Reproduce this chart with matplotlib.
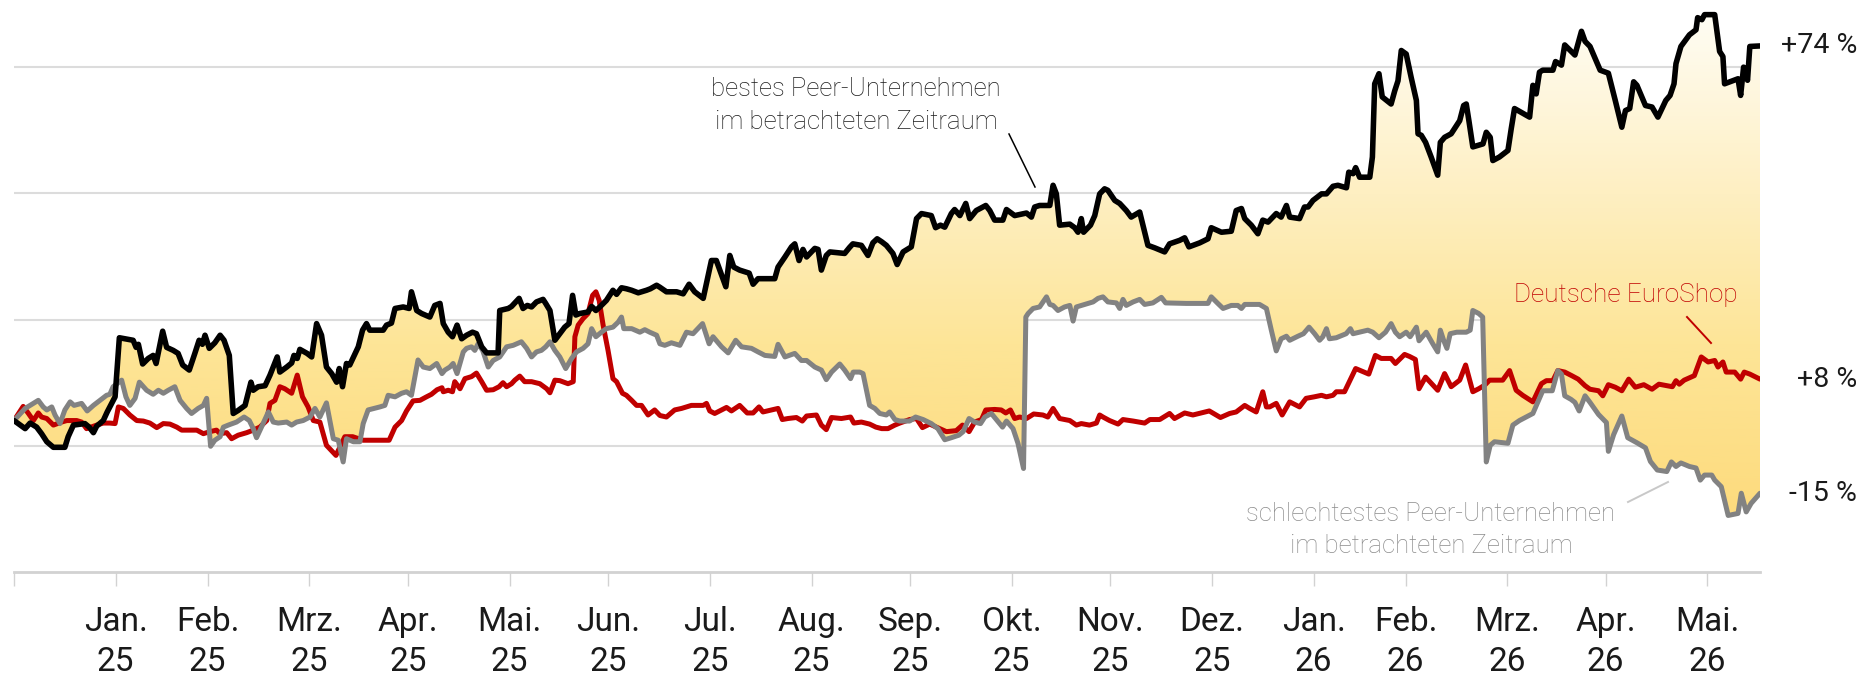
import numpy as np
import pandas as pd
import matplotlib
matplotlib.use("Agg")
import matplotlib.pyplot as plt
import matplotlib.dates as mdates
from matplotlib.colors import LinearSegmentedColormap
from matplotlib.patches import Polygon
from matplotlib.lines import Line2D
from matplotlib.transforms import blended_transform_factory

plt.rcParams['font.family'] = ['Roboto', 'DejaVu Sans']

# ---------------- data (days since start, % change) ----------------
START = '2024-12-31'

best_peer = [(0.0,0),(3.4,-1.6),(4.9,-0.5),(6.9,-1.3),(8.4,-2.6),(10.0,-4.2),(12.0,-5.3),(15.5,-5.3),(16.5,-3.2),(18.1,-0.9),
(21.6,-0.6),(22.9,-1.3),(24.2,-2.4),(25.2,-1.1),(27.2,0),(28.4,1.7),(30.8,4.7),(32.1,16.4),(33.8,16.2),(36.3,15.9),
(37.2,14.5),(37.9,15.1),(39.2,11.2),(40.9,12.3),(42.4,12.9),(43.3,11.3),(45.3,17.7),(46.5,14.5),(48.5,13.9),(50.0,13.3),
(51.4,11.0),(53.4,10.0),(55.1,13.3),(56.4,15.9),(57.4,15.1),(58.2,16.9),(59.5,14.3),(61.2,15.4),(62.8,16.9),(64.0,15.9),
(65.6,12.9),(66.8,1.4),(68.3,2.0),(70.4,3.0),(72.2,7.6),(72.9,6.0),(74.4,6.7),(76.5,6.9),(78.0,9.0),(80.2,12.6),
(81.0,9.6),(83.1,10.6),(84.6,11.4),(85.3,12.9),(86.3,12.3),(87.1,14.1),(89.3,13.3),(90.7,12.6),(92.2,19.2),(93.7,16.9),
(95.2,10.6),(96.8,9.3),(98.3,7.6),(99.1,10.3),(100.1,6.7),(101.3,11.3),(102.3,11.0),(104.9,14.6),(106.2,17.9),(107.4,19.2),
(108.4,17.9),(112.5,17.9),(113.5,18.9),(115.0,19.3),(116.1,22.2),(118.6,22.5),(120.4,22.2),(121.1,25.5),(122.7,21.8),(124.2,21.2),
(126.7,20.5),(128.2,22.8),(129.8,23.2),(130.8,19.2),(132.3,17.5),(133.6,16.6),(135.0,18.9),(136.4,16.2),(137.9,16.9),(139.7,17.5),
(140.9,17.2),(142.5,14.6),(144.0,13.4),(147.5,13.4),(148.0,21.8),(150.6,22.2),(151.6,22.6),(153.9,24.2),(155.1,22.2),(156.4,22.8),
(157.7,22.5),(159.2,23.5),(161.2,24.0),(162.0,23.2),(163.3,21.8),(164.8,15.9),(166.3,17.2),(167.8,18.5),(169.1,19.2),(170.2,24.8),
(171.2,20.9),(172.4,21.2),(174.9,21.5),(176.0,22.6),(177.3,21.8),(178.5,22.5),(180.5,23.8),(182.5,25.8),(183.6,25.0),(185.1,26.3),
(186.6,26.1),(188.2,25.8),(190.2,25.3),(192.7,25.8),(193.9,26.1),(195.8,26.8),(196.8,26.4),(198.8,25.5),(201.9,25.5),(203.9,25.1),
(205.7,27.0),(207.4,25.5),(210.0,24.2),(212.5,31.7),(214.0,31.7),(216.9,26.5),(218.1,32.7),(219.3,30.4),(221.1,29.8),(224.0,29.2),
(225.2,27.0),(226.7,28.1),(231.8,28.1),(232.8,30.4),(234.9,32.4),(236.9,34.4),(237.9,35.0),(239.2,31.7),(240.4,33.9),(241.5,32.4),
(244.0,34.1),(245.0,33.9),(246.0,29.8),(247.5,32.7),(248.6,33.4),(253.1,33.1),(254.6,34.3),(255.6,35.0),(258.2,34.7),(260.2,32.7),
(261.7,35.2),(263.0,36.0),(264.4,35.4),(265.8,34.7),(267.8,33.1),(269.1,30.9),(270.9,33.4),(273.4,34.4),(275.0,40.0),(276.5,41.0),
(279.5,40.6),(280.8,38.2),(282.3,38.7),(283.6,38.3),(285.6,41.0),(286.6,41.8),(288.2,40.6),(290.0,43.0),(291.2,40.0),(293.2,41.6),
(296.1,42.6),(297.3,41.6),(298.8,39.7),(301.3,39.7),(302.4,41.8),(304.9,40.6),(308.5,41.1),(310.0,40.3),(311.0,42.3),(312.5,42.6),
(315.6,42.6),(316.6,46.6),(317.6,44.9),(318.6,38.7),(321.7,38.9),(323.2,38.2),(324.2,37.3),(325.2,40.0),(325.9,37.3),(328.0,38.7),
(329.3,40.6),(330.8,44.9),(332.3,45.9),(333.3,45.6),(335.4,43.6),(336.9,43.0),(338.9,41.6),(340.4,40.3),(343.0,41.3),(345.5,34.7),
(347.6,34.2),(350.6,33.4),(352.1,35.0),(355.2,35.7),(356.7,36.2),(358.0,34.4),(361.3,35.2),(363.8,36.0),(364.8,38.2),(367.9,37.3),
(370.9,37.5),(372.4,41.6),(374.0,42.0),(375.0,40.0),(377.0,38.7),(379.0,37.0),(380.5,39.7),(382.1,39.3),(384.6,41.0),(386.1,40.3),
(387.7,42.6),(388.7,40.3),(391.7,40.0),(393.2,42.3),(394.3,42.3),(395.8,43.6),(398.4,44.9),(399.9,44.9),(401.9,46.4),(403.4,46.6),
(406.0,46.1),(406.7,49.2),(408.0,48.9),(408.8,50.1),(410.0,48.2),(413.1,48.2),(413.9,52.2),(414.6,66.7),(415.9,68.7),(416.9,64.1),
(419.6,62.7),(420.7,65.3),(421.7,67.3),(422.7,73.3),(424.2,72.6),(425.7,68.0),(427.3,63.4),(427.8,56.8),(428.8,56.5),(430.1,55.1),
(431.8,52.2),(433.8,48.6),(434.6,55.1),(435.9,56.1),(437.9,56.8),(440.5,59.4),(441.7,62.4),(442.5,62.7),(443.3,59.4),(444.5,54.2),
(447.6,54.8),(448.6,57.1),(449.8,56.1),(450.6,51.5),(452.6,52.2),(455.2,53.5),(456.2,57.8),(457.2,61.8),(461.8,60.1),(462.8,66.4),
(463.8,64.7),(464.8,69.0),(465.8,69.4),(468.9,69.4),(469.7,71.1),(471.5,70.4),(472.5,74.4),(475.6,72.4),(477.6,77.1),(478.7,75.1),
(480.2,74.1),(483.3,69.4),(485.8,68.8),(487.9,63.4),(489.9,58.1),(491.0,61.4),(492.3,61.8),(493.5,67.1),(494.5,66.4),(497.1,62.4),
(499.1,62.1),(500.9,60.1),(503.3,63.4),(504.6,64.4),(505.8,66.7),(506.4,70.7),(507.9,74.1),(510.5,76.4),(512.5,77.4),(513.0,79.8),
(514.3,79.4),(515.1,80.4),(518.2,80.4),(519.7,73.1),(520.7,72.1),(521.2,66.7),(525.3,67.7),(526.1,64.4),(527.0,70.0),(528.2,67.4),
(528.9,74.1),(532.0,74.2)]

worst_peer = [(0.0,0),(3.4,2.4),(5.4,3.2),(7.4,4.0),(8.9,2.7),(10.0,2.1),(11.5,2.7),(12.5,1.1),(14.0,-0.6),(15.5,2.1),
(17.1,3.7),(18.3,3.0),(20.6,3.4),(22.3,1.9),(24.2,3.0),(26.2,4.0),(28.2,5.0),(29.2,5.2),(30.2,6.7),(32.8,8.0),
(34.1,4.7),(35.3,3.0),(36.9,4.4),(38.2,7.6),(40.4,6.0),(42.4,5.2),(44.0,6.0),(45.5,5.4),(47.0,6.0),(49.0,6.7),
(50.6,4.0),(52.6,2.4),(54.1,1.4),(56.1,2.4),(57.7,3.0),(58.7,4.4),(59.9,-5.1),(61.2,-3.9),(62.8,-3.2),(63.8,-1.3),
(65.3,-0.9),(67.8,-0.3),(70.1,0.7),(71.7,0),(72.9,-1.6),(73.9,-3.4),(75.4,-1.3),(77.5,1.7),(79.0,-0.3),(80.5,-0.5),
(83.1,-0.3),(84.6,-0.9),(86.1,-0.3),(88.1,0),(90.2,0.7),(91.7,2.4),(93.2,0.7),(95.2,3.5),(97.3,-3.6),(98.8,-3.9),
(100.3,-8.2),(101.3,-3.6),(103.4,-4.2),(105.4,-4.2),(106.4,-0.6),(107.9,2.1),(111.5,2.7),(113.0,3.0),(114.0,5.0),(116.1,4.7),
(118.1,5.4),(119.6,5.7),(121.1,5.0),(123.1,12.0),(124.7,10.6),(126.7,10.3),(128.8,11.3),(130.4,9.3),(131.3,10.0),(132.8,10.6),
(133.8,11.3),(135.0,9.3),(136.9,13.6),(137.9,14.3),(139.4,14.6),(140.4,13.9),(141.4,15.2),(142.8,13.9),(144.5,10.6),(146.0,11.9),
(148.0,12.6),(150.1,14.6),(152.1,14.9),(154.6,15.6),(156.2,14.3),(157.7,12.6),(159.2,13.6),(160.7,13.9),(162.0,14.6),(163.3,15.6),
(164.8,13.9),(166.3,12.6),(168.1,10.3),(169.9,12.3),(171.4,13.6),(173.4,14.3),(174.9,15.2),(176.0,18.2),(177.3,16.6),(179.0,17.5),
(180.5,18.2),(182.5,18.5),(184.1,19.5),(185.1,20.5),(185.8,18.2),(188.2,18.2),(190.7,17.5),(192.2,18.0),(193.7,17.5),(195.8,16.9),
(196.8,15.2),(198.3,14.9),(200.3,15.4),(202.9,14.9),(204.9,17.5),(206.9,17.2),(209.8,19.2),(211.8,15.2),(213.0,16.6),(215.6,14.6),
(217.6,13.4),(219.9,15.9),(221.7,14.6),(224.7,14.3),(226.7,13.6),(228.8,12.9),(231.8,12.7),(232.8,15.1),(234.9,12.6),(237.9,13.3),
(239.9,11.9),(241.5,11.9),(244.0,10.6),(246.0,10.0),(247.5,8.1),(249.1,9.6),(251.6,11.2),(253.1,10.0),(254.9,8.3),(255.7,9.6),
(257.7,9.6),(258.7,9.3),(260.7,3.0),(262.3,2.4),(263.8,1.4),(265.8,1.1),(266.8,1.7),(268.4,0.2),(269.9,-0.1),(272.9,-0.1),
(274.7,0.7),(277.0,0.2),(279.5,-0.6),(281.5,-1.6),(283.6,-3.8),(285.6,-3.4),(287.9,-2.9),(289.2,-2.2),(291.0,0.4),(292.7,-0.3),
(294.5,-0.6),(295.8,0.7),(297.8,1.4),(299.3,0.2),(301.2,-1.3),(302.4,-0.1),(304.4,-1.6),(305.9,-4.5),(307.6,-9.5),(308.3,20.5),
(309.0,21.2),(310.5,22.2),(312.5,22.5),(314.6,24.5),(315.6,23.0),(316.6,22.8),(318.1,21.8),(320.1,22.5),(321.7,22.8),(322.7,19.7),
(323.7,22.5),(325.2,22.8),(327.2,23.2),(328.8,23.5),(330.3,24.2),(331.8,24.5),(333.3,23.5),(335.9,23.3),(336.9,22.2),(337.9,24.0),
(338.9,22.8),(341.0,23.5),(343.0,24.0),(344.5,23.0),(347.0,23.3),(349.6,24.4),(350.9,23.3),(357.2,23.2),(363.8,23.2),(364.8,24.5),
(366.8,23.2),(368.4,22.2),(370.9,22.8),(372.9,22.8),(374.0,22.2),(375.0,23.0),(379.5,23.0),(381.6,22.2),(383.1,17.9),(384.6,13.8),
(386.1,16.2),(387.7,16.7),(388.7,15.9),(391.2,16.7),(392.9,17.2),(394.6,18.5),(396.3,17.2),(397.8,15.9),(398.8,16.6),(399.9,18.2),
(400.8,16.2),(402.9,16.4),(405.9,17.2),(407.2,18.2),(408.0,17.2),(412.5,17.9),(414.0,17.5),(415.9,16.4),(417.9,17.5),(419.6,19.2),
(420.9,17.5),(422.2,16.6),(424.2,17.5),(425.4,16.6),(427.3,18.5),(428.1,15.8),(430.3,17.5),(432.3,15.2),(433.8,13.6),(434.6,17.9),
(435.6,15.9),(436.6,14.3),(437.6,17.2),(439.6,17.5),(442.5,17.5),(443.7,17.9),(444.5,21.8),(446.3,21.2),(447.5,20.5),(448.6,-8.2),
(449.8,-4.9),(451.1,-4.2),(455.2,-4.5),(456.7,-0.9),(458.7,0),(462.8,1.4),(464.8,4.4),(465.8,5.9),(468.7,5.9),(470.4,9.9),
(471.5,9.2),(472.5,4.9),(474.4,4.2),(475.6,3.6),(476.9,1.9),(478.7,4.9),(480.2,3.6),(482.8,1.2),(485.2,-0.4),(485.8,-6.1),
(487.4,-2.8),(489.9,0.9),(491.7,-3.4),(494.5,-4.4),(497.1,-5.4),(498.6,-8.1),(500.7,-9.8),(503.6,-10.1),(505.0,-8.2),(506.4,-9.1),
(507.9,-8.4),(510.5,-9.1),(512.5,-9.4),(513.8,-11.8),(515.1,-10.8),(517.3,-10.8),(518.2,-11.8),(520.2,-13.1),(522.3,-18.8),(525.3,-18.4),
(526.3,-14.4),(527.8,-18.1),(529.3,-16.4),(532.0,-14.4)]

deutsche_euroshop = [(0.0,0),(2.8,2.8),(4.4,1.4),(5.9,0),(7.4,1.5),(8.4,0.7),(10.0,0.4),(12.0,-0.9),(14.5,-0.3),(16.1,0),
(19.1,0),(20.6,-0.3),(22.1,-1.6),(25.2,-0.9),(27.2,-0.5),(29.2,-0.5),(30.8,-0.6),(31.8,2.7),(33.3,2.4),(35.3,1.1),
(37.4,0),(39.4,-0.1),(41.4,-0.5),(43.5,-1.4),(45.5,-0.6),(47.5,-0.7),(49.6,-1.3),(51.1,-1.9),(53.6,-1.9),(55.7,-1.9),
(57.7,-2.6),(59.7,-2.2),(61.7,-1.9),(62.8,-2.6),(64.8,-2.4),(66.3,-3.6),(68.3,-2.9),(70.9,-2.4),(72.9,-1.9),(74.9,-1.3),
(77.0,0),(78.0,3.4),(79.5,4.0),(81.0,6.7),(82.5,6.3),(84.6,5.4),(86.3,9.0),(87.9,4.7),(89.6,2.7),(91.2,0),
(93.2,-0.3),(95.2,-4.9),(98.1,-6.9),(100.8,-3.2),(103.2,-3.2),(106.4,-3.9),(110.5,-3.9),(114.3,-3.9),(116.1,-1.3),(118.1,0),
(119.6,1.9),(121.6,3.9),(123.7,4.0),(125.7,4.7),(127.2,5.2),(128.9,6.1),(130.4,6.5),(130.8,5.7),(132.3,6.0),(133.6,5.7),
(134.3,7.7),(135.9,6.3),(137.4,8.3),(139.4,8.7),(140.9,9.4),(142.5,7.7),(144.0,6.0),(146.0,6.1),(147.8,6.7),(149.0,7.5),
(150.1,6.7),(151.6,7.3),(152.6,8.0),(154.1,8.8),(155.6,7.7),(157.7,7.7),(160.2,7.3),(162.3,6.3),(163.3,5.5),(164.8,8.0),
(166.3,7.9),(168.8,7.3),(170.4,7.7),(170.9,16.6),(171.9,18.9),(173.4,20.2),(174.9,21.2),(176.3,24.8),(177.3,25.5),(178.3,23.8),
(179.5,18.9),(181.0,13.9),(182.5,8.3),(183.6,7.7),(185.4,5.4),(186.6,5.0),(188.2,4.0),(189.7,3.0),(191.2,3.0),(193.2,1.1),
(195.2,2.1),(196.8,1.0),(198.8,0.7),(201.3,2.1),(203.4,2.4),(206.4,3.0),(210.0,3.0),(211.0,3.4),(212.0,1.9),(213.5,1.4),
(217.1,2.6),(218.6,1.9),(221.1,3.0),(223.4,1.5),(225.2,1.5),(227.0,2.7),(228.2,1.7),(232.8,2.4),(234.1,0.2),(235.8,0.4),
(238.4,0.6),(240.2,-0.1),(241.5,0.9),(244.5,1.1),(246.0,-0.9),(247.5,-1.8),(249.1,0.6),(252.1,0.4),(254.9,0.7),(255.9,-0.5),
(258.2,-0.3),(260.7,-0.7),(262.6,-1.3),(264.4,-1.6),(266.3,-1.6),(268.4,-0.9),(269.9,-0.5),(272.9,0.2),(275.0,0.4),(276.8,-1.4),
(279.0,-0.7),(282.1,-1.6),(284.1,-2.2),(287.1,-2.0),(289.0,-0.9),(291.0,-2.2),(292.7,-0.3),(294.8,0.2),(296.1,2.1),(298.8,2.2),
(300.8,2.1),(302.2,1.5),(303.6,2.1),(304.9,0.4),(306.4,0.7),(308.5,0.4),(310.7,1.3),(313.5,1.1),(315.0,0.7),(316.6,2.4),
(318.6,0.4),(321.7,0),(323.7,-0.9),(325.2,-0.6),(327.7,-0.9),(329.8,-0.5),(330.8,1.1),(331.8,0.7),(333.8,0),(336.4,-0.7),
(337.9,0.2),(341.0,-0.1),(344.5,-0.5),(346.1,0.2),(349.1,0.2),(352.1,1.4),(353.6,0.4),(356.7,1.5),(359.2,1.1),(364.2,1.9),
(367.6,0.6),(370.4,1.4),(372.4,1.7),(375.0,3.0),(376.5,2.4),(378.5,1.7),(380.5,5.7),(381.6,2.7),(382.6,2.7),(384.6,3.4),
(386.4,1.1),(388.7,3.7),(391.7,2.7),(393.7,4.4),(396.2,4.7),(398.4,5.0),(399.9,4.7),(401.9,5.0),(402.9,5.7),(405.4,5.7),
(408.8,10.3),(412.8,9.2),(414.8,12.9),(416.6,12.3),(419.6,12.3),(420.9,11.3),(423.7,13.1),(425.2,12.7),(427.0,12.1),(428.1,6.3),
(430.1,8.6),(433.8,6.0),(435.9,9.3),(437.9,6.7),(440.5,8.0),(442.3,11.0),(444.5,5.7),(446.3,6.3),(448.1,7.0),(449.6,8.0),
(453.6,8.0),(455.7,9.9),(457.7,6.0),(459.7,5.0),(462.8,3.7),(465.4,7.3),(466.9,7.9),(468.9,7.9),(470.4,9.9),(472.5,9.6),
(474.6,8.9),(476.6,8.2),(478.7,6.9),(480.2,6.2),(482.8,5.9),(484.1,4.9),(485.8,7.1),(487.9,6.6),(489.9,5.9),(492.0,8.2),
(494.0,6.6),(496.6,7.1),(499.1,6.2),(501.2,7.2),(505.3,6.7),(506.4,7.9),(507.4,7.2),(508.9,8.0),(512.0,8.9),(514.1,12.6),
(516.2,11.6),(518.2,11.9),(519.2,10.6),(520.7,11.6),(521.7,9.6),(524.3,9.6),(526.1,8.2),(527.2,9.6),(528.9,9.2),(532.0,8.2)]

month_ticks = ['2024-12-31', '2025-01-31', '2025-02-28', '2025-03-31', '2025-04-30', '2025-05-31',
               '2025-06-30', '2025-07-31', '2025-08-31', '2025-09-30', '2025-10-31', '2025-11-30',
               '2025-12-31', '2026-01-31', '2026-02-28', '2026-03-31', '2026-04-30', '2026-05-31']
month_labels = ['', 'Jan.\n25', 'Feb.\n25', 'Mrz.\n25', 'Apr.\n25', 'Mai.\n25', 'Jun.\n25', 'Jul.\n25',
                'Aug.\n25', 'Sep.\n25', 'Okt.\n25', 'Nov.\n25', 'Dez.\n25', 'Jan.\n26', 'Feb.\n26',
                'Mrz.\n26', 'Apr.\n26', 'Mai.\n26']
end_labels = ['+74 %', '+8 %', '-15 %']
grid_values = [-5, 20, 45, 70]
y_limits = (-30, 83.3)

best_label = ['bestes Peer-Unternehmen', 'im betrachteten Zeitraum']
worst_label = ['schlechtestes Peer-Unternehmen', 'im betrachteten Zeitraum']
des_label = 'Deutsche EuroShop'

# ---------------- styling ----------------
C_BEST = '#000000'
C_WORST = '#828282'
C_DES = '#C00000'
C_GRID = '#DCDCDC'
C_TEXT = '#1A1A1A'


def to_series(pairs):
    d = np.array([p[0] for p in pairs], dtype=float)
    v = np.array([p[1] for p in pairs], dtype=float)
    dates = pd.Timestamp(START) + pd.to_timedelta(d, unit='D')
    return dates, v


W, H = 1865, 679
fig = plt.figure(figsize=(W / 100, H / 100), dpi=100)
ax = fig.add_axes([14 / W, 107 / H, (1760 - 14) / W, 1 - 107 / H])

bd, bv = to_series(best_peer)
wd, wv = to_series(worst_peer)
dd, dv = to_series(deutsche_euroshop)

ax.plot(dd, dv, color=C_DES, lw=3.6, solid_joinstyle='round', solid_capstyle='round', zorder=4)
ax.plot(wd, wv, color=C_WORST, lw=3.6, solid_joinstyle='round', solid_capstyle='round', zorder=5)
ax.plot(bd, bv, color=C_BEST, lw=4.0, solid_joinstyle='round', solid_capstyle='round', zorder=6)

# gradient band between best and worst peer
xb = mdates.date2num(bd)
xw = mdates.date2num(wd)
verts = np.column_stack([np.concatenate([xb, xw[::-1]]), np.concatenate([bv, wv[::-1]])])
band = Polygon(verts, closed=True, facecolor='none', edgecolor='none')
ax.add_patch(band)
span = y_limits[1] - y_limits[0]
stops = [(-30, '#FDD977'), (-15, '#FDDC80'), (15, '#FDE597'), (45, '#FEEFC2'), (83.3, '#FFFEF8')]
cmap = LinearSegmentedColormap.from_list('band', [((v - y_limits[0]) / span, c) for v, c in stops])
grad = np.linspace(1, 0, 512).reshape(-1, 1)
x0 = mdates.date2num(pd.Timestamp(START))
x1 = xb.max()
im = ax.imshow(grad, extent=[x0, x1, y_limits[0], y_limits[1]], origin='upper', aspect='auto',
               cmap=cmap, vmin=0, vmax=1, interpolation='bilinear', zorder=2)
im.set_clip_path(band)

for g in grid_values:
    ax.axhline(g, color=C_GRID, lw=1.5, zorder=1)

ax.set_xlim(x0, x1)
ax.set_ylim(*y_limits)

for s in ['top', 'right', 'left']:
    ax.spines[s].set_visible(False)
ax.spines['bottom'].set_color('#D2D2D2')
ax.spines['bottom'].set_linewidth(2.0)
ax.set_yticks([])

ax.set_xticks(mdates.date2num(pd.to_datetime(month_ticks)))
ax.set_xticklabels(month_labels, linespacing=1.3)
ax.tick_params(axis='x', length=10, width=1.0, color='#D2D2D2', pad=14.5,
               labelsize=24, labelcolor=C_TEXT)

# end-value labels on the right
trans = blended_transform_factory(fig.transFigure, ax.transData)
for lab, val in zip(end_labels, [bv[-1], dv[-1], wv[-1]]):
    ax.text(1857 / W, val, lab, transform=trans, ha='right', va='center',
            fontsize=20.5, color=C_TEXT, clip_on=False)


def fx(px):
    return px / W


def fy(py):
    return 1 - py / H


ANN = 18.5
# annotations
fig.text(fx(856), fy(89), best_label[0], ha='center', va='center', fontsize=ANN, color=C_TEXT,
         fontweight='light')
fig.text(fx(856), fy(122), best_label[1], ha='center', va='center', fontsize=ANN, color=C_TEXT,
         fontweight='light')
fig.add_artist(Line2D([fx(1009), fx(1035)], [fy(134), fy(187)], transform=fig.transFigure,
                      color='black', lw=1.1))

fig.text(fx(1626), fy(295), des_label, ha='center', va='center', fontsize=ANN + 0.3, color=C_DES,
         fontweight='light')
fig.add_artist(Line2D([fx(1687), fx(1711)], [fy(317), fy(343)], transform=fig.transFigure,
                      color=C_DES, lw=1.4))

fig.text(fx(1431), fy(514), worst_label[0], ha='center', va='center', fontsize=ANN, color='#8C8C8C',
         fontweight='light')
fig.text(fx(1431), fy(546), worst_label[1], ha='center', va='center', fontsize=ANN, color='#8C8C8C',
         fontweight='light')
fig.add_artist(Line2D([fx(1628), fx(1668)], [fy(502), fy(482)], transform=fig.transFigure,
                      color='#C8C8C8', lw=1.4))

fig.savefig('out.png', dpi=100)
